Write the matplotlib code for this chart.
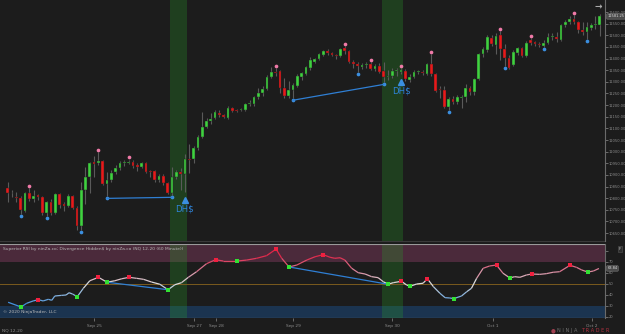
import numpy as np
import matplotlib
matplotlib.use("Agg")
import matplotlib.pyplot as plt
from matplotlib.collections import LineCollection
from matplotlib.colors import LinearSegmentedColormap, Normalize

# NQ 12-20, 60 minute bars
opens = [10844, 10824, 10803, 10801, 10745, 10822, 10796, 10813.5, 10805, 10736,
         10783, 10736, 10818, 10775, 10766, 10809, 10758, 10680, 10835, 10891,
         10955, 10951, 10960, 10861, 10878, 10912, 10930, 10951, 10952, 10955,
         10942.5, 10934, 10951, 10917, 10917, 10878, 10895, 10865, 10822, 10891,
         10912, 10904, 10968, 10968, 11016, 11063, 11106, 11132, 11145, 11166,
         11157.5, 11145, 11188, 11179, 11179, 11179, 11205, 11205, 11235, 11252,
         11269, 11321, 11342, 11347, 11274, 11239, 11265, 11282, 11321, 11334,
         11360, 11385, 11398, 11415.5, 11433, 11424, 11415.5, 11411, 11446, 11433,
         11385, 11377, 11364, 11372.5, 11377, 11355, 11368, 11347, 11321, 11325,
         11347, 11342, 11347, 11308, 11321, 11342, 11342, 11334, 11377, 11334,
         11269, 11265, 11192, 11226, 11213, 11231, 11235, 11274, 11256, 11312,
         11420, 11437, 11489, 11458.5, 11501.5, 11441, 11403, 11372.5, 11424, 11446,
         11411, 11480, 11471, 11463, 11454, 11467, 11493, 11493, 11480, 11544.5,
         11557, 11570, 11557, 11523, 11514, 11532, 11544.5, 11544.5]
highs = [10869, 10835, 10826, 10809, 10826, 10844, 10835, 10818, 10809, 10788,
         10796, 10822, 10822, 10783, 10818, 10813.5, 10766, 10869, 10934, 10955,
         10981, 10998, 10964, 10912, 10921, 10942.5, 10960, 10964, 10966, 10964,
         10951, 10955, 10955, 10921, 10921, 10904, 10904, 10869, 10934, 10921,
         10930, 10990, 11033, 11024, 11071.5, 11170, 11145, 11166, 11179, 11179,
         11162, 11196, 11192, 11183, 11188, 11209, 11222, 11239, 11274, 11282,
         11329.5, 11364, 11360, 11351, 11317, 11304, 11295, 11334, 11342, 11368,
         11407, 11403, 11424, 11437, 11441, 11428, 11420, 11446, 11454, 11437,
         11394, 11385, 11381, 11385, 11385, 11377, 11381, 11385, 11351, 11360,
         11360, 11360, 11355, 11334, 11351, 11351, 11351, 11381, 11420, 11338,
         11282, 11282, 11235, 11239, 11243.5, 11243.5, 11291, 11282, 11317, 11424,
         11450, 11501.5, 11501.5, 11510, 11519, 11463, 11415.5, 11437, 11450, 11450,
         11476, 11489, 11476, 11471, 11480, 11510, 11510, 11514, 11549, 11566,
         11583, 11587.5, 11562, 11557, 11557, 11553, 11583, 11592]
lows = [10783, 10805, 10783, 10732, 10740, 10788, 10783, 10792, 10727.5, 10723,
        10727.5, 10732, 10758, 10745, 10762, 10753, 10663, 10663, 10775, 10822,
        10891, 10942.5, 10856.5, 10809, 10869, 10904, 10921, 10938, 10947, 10930,
        10917, 10930, 10908, 10891, 10869, 10869, 10856.5, 10818, 10813.5, 10882,
        10835, 10826, 10908, 10951, 11007, 11058.6, 11102, 11119, 11140, 11149,
        11145, 11140, 11170, 11170, 11175, 11175, 11196, 11196, 11226, 11239,
        11265, 11317, 11325, 11252, 11231, 11231, 11231, 11278, 11308, 11329.5,
        11351, 11381, 11394, 11411, 11415.5, 11411, 11398, 11407, 11420, 11381,
        11360, 11342, 11355, 11360, 11351, 11347, 11338, 11299, 11308, 11317,
        11325, 11334, 11304, 11299, 11317, 11334, 11329.5, 11329.5, 11325, 11256,
        11231, 11188, 11179, 11205, 11205, 11188, 11213, 11243.5, 11243.5, 11308,
        11407, 11428, 11454, 11420, 11394, 11368, 11355, 11368, 11415.5, 11407,
        11407, 11458.5, 11454, 11450, 11450, 11463, 11480, 11471, 11476, 11536,
        11549, 11549, 11510, 11501.5, 11484, 11523, 11527, 11497]
closes = [10822, 10820, 10799, 10749, 10822, 10796, 10809, 10805, 10736, 10783,
          10736, 10818, 10770.5, 10766, 10809, 10758, 10680, 10835, 10891, 10951,
          10947, 10960, 10861, 10878, 10908, 10930, 10951, 10955, 10956, 10938,
          10934, 10951, 10912, 10912, 10878, 10895, 10865, 10822, 10891, 10912,
          10904, 10968, 10964, 11016, 11063, 11106, 11132, 11140, 11170, 11157.5,
          11149, 11188, 11175, 11175, 11183, 11205, 11209, 11235, 11252, 11269,
          11321, 11342, 11338, 11274, 11239, 11265, 11286.5, 11325, 11338, 11364,
          11394, 11398, 11420, 11433, 11424, 11415.5, 11411, 11441, 11433, 11385,
          11377, 11368, 11372.5, 11377, 11355, 11368, 11342, 11321, 11325, 11347,
          11351, 11351, 11312, 11321, 11342, 11347, 11338, 11377, 11334, 11261,
          11265, 11192, 11226, 11213, 11235, 11235, 11274, 11256, 11312, 11420,
          11441, 11493, 11463, 11497, 11441, 11403, 11360, 11428, 11446, 11411,
          11467, 11467, 11463, 11458.5, 11467, 11493, 11495, 11484, 11544.5, 11557,
          11570, 11557, 11523, 11514, 11536, 11544.5, 11549, 11581.25]

pivot_high_bars = [5, 21, 28, 62, 78, 84, 91, 98, 114, 121, 131]
pivot_low_bars = [3, 9, 17, 23, 38, 66, 81, 87, 102, 115, 124, 134]
div_pairs = [(23, 38), (66, 87)]
signal_bars = [41, 91]
shade_bars = [(38, 41), (87, 91)]

# Superior RSI
rsi_x = [0.1, 3.1, 4.4, 5.9, 7.1, 8.2, 9.4, 10.2, 10.9, 12.5, 13.5, 14.2, 15.0, 16.1,
         17.5, 19.0, 21.0, 23.0, 24.8, 26.4, 28.1, 29.8, 31.4, 33.3, 35.2, 37.1, 38.7,
         40.2, 41.8, 43.7, 46.0, 48.1, 49.9, 53.1, 55.3, 57.6, 59.9, 62.1, 63.4, 65.1,
         66.9, 69.2, 71.1, 73.0, 74.6, 75.7, 76.9, 78.0, 79.6, 81.1, 82.7, 84.2, 85.7,
         86.9, 88.0, 89.2, 91.1, 92.3, 93.1, 94.6, 96.1, 97.1, 98.5, 100.0, 101.2,
         102.3, 103.2, 105.0, 106.2, 107.3, 108.5, 110.0, 111.5, 113.1, 114.6, 116.2,
         117.3, 118.5, 120.0, 121.2, 123.1, 124.6, 126.2, 127.7, 130.1, 131.6, 132.8,
         134.2, 135.5, 136.8]
rsi_v = [33.1, 28.8, 32.2, 34.3, 35.5, 34.3, 35.8, 34.9, 38.8, 39.4, 39.7, 41.8, 40.6,
         38.2, 45.8, 52.7, 55.8, 51.3, 52.7, 54.5, 55.8, 54.9, 54.0, 51.5, 49.5, 44.5,
         49.1, 50.9, 55.8, 60.9, 68.2, 71.8, 70.6, 70.6, 71.5, 73.1, 75.5, 81.5, 73.1,
         65.2, 67.0, 71.5, 74.5, 76.4, 74.0, 73.1, 73.6, 71.5, 64.0, 60.0, 58.8, 56.4,
         55.5, 51.8, 49.5, 50.9, 52.2, 48.8, 47.6, 49.7, 50.4, 54.5, 47.3, 41.3, 37.3,
         37.0, 36.4, 38.8, 42.7, 45.8, 54.9, 64.0, 66.1, 67.0, 59.5, 55.2, 56.4, 55.8,
         57.9, 58.8, 58.5, 59.1, 60.4, 60.9, 66.7, 64.9, 62.5, 60.6, 61.5, 63.84]
rsi_hi_x = [7.1, 21.0, 28.1, 48.1, 62.1, 73.0, 91.1, 97.1, 113.1, 121.2, 130.1]
rsi_hi_v = [35.5, 55.8, 55.8, 71.8, 81.5, 76.4, 52.2, 54.5, 67.0, 58.8, 66.7]
rsi_lo_x = [3.1, 16.1, 23.0, 37.1, 53.1, 65.1, 88.0, 93.1, 103.2, 116.2, 134.2]
rsi_lo_v = [28.8, 38.2, 51.3, 44.5, 70.6, 65.2, 49.5, 47.6, 36.4, 55.2, 60.6]
rsi_div = [((23.0, 51.3), (37.1, 44.5)), ((65.1, 65.2), (88.0, 49.5))]

xtick_pos = [20, 43.1, 48.2, 66, 88.9, 112.3, 135.2]
xtick_labels = ["Sep 25", "Sep 27", "Sep 28", "Sep 29", "Sep 30", "Oct 1", "Oct 2"]
price_ticks = np.arange(10650, 11601, 50)

bg = "#1c1c1c"
txt = "#8c8c8c"
up_c = "#3fd23f"
dn_c = "#e8191a"
wick_c = "#5a5a5a"
pink = "#f07aa8"
blue = "#3b8fe0"

W, H = 625, 334
fig = plt.figure(figsize=(W / 100, H / 100), dpi=100, facecolor=bg)
ax = fig.add_axes([0, 1 - 241 / H, 605 / W, 241 / H], facecolor=bg)
ax2 = fig.add_axes([0, 16 / H, 605 / W, 74 / H], facecolor=bg)

x = np.arange(len(closes))
o = np.array(opens); c = np.array(closes)
hi = np.array(highs); lo = np.array(lows)
up = c >= o

xmin, xmax = -1.78, 138.2
for a in (ax, ax2):
    a.set_xlim(xmin, xmax)
    for s in ("left", "top", "bottom"):
        a.spines[s].set_visible(False)
    a.spines["right"].set_color("#6a6a6a")
    a.spines["right"].set_linewidth(0.8)
    for b0, b1 in shade_bars:
        a.axvspan(b0 - 0.5, b1 + 0.5, color="#2a9a2a", alpha=0.28, lw=0, zorder=1)

# price panel
ax.set_ylim(10615.7, 11652)
ax.vlines(x, lo, hi, color=wick_c, lw=0.8, zorder=2)
body = np.maximum(np.abs(c - o), 2.5)
ax.bar(x, body, bottom=np.minimum(o, c), width=0.62,
       color=np.where(up, up_c, dn_c), edgecolor="#202020", linewidth=0.3, zorder=3)

ax.scatter(x[pivot_high_bars], hi[pivot_high_bars] + 10, s=7, color=pink, zorder=4, lw=0)
ax.scatter(x[pivot_low_bars], lo[pivot_low_bars] - 10, s=7, color=blue, zorder=4, lw=0)
for b0, b1 in div_pairs:
    ax.plot([b0, b1], [lo[b0] - 10, lo[b1] - 10], color="#2f7fd4", lw=0.9, zorder=4)
for b in signal_bars:
    ax.plot(b, lo[b] - 34, marker="^", color=blue, ms=4, zorder=5)
    ax.text(b, lo[b] - 72, "DH$", color="#2f86dc", fontsize=6.2,
            ha="center", va="center", zorder=5)

ax.yaxis.tick_right()
ax.set_yticks(price_ticks)
ax.set_yticklabels([f"{v:.2f}" for v in price_ticks])
ax.tick_params(axis="y", colors=txt, labelsize=2.6, length=2, width=0.5, pad=0.8)
ax.set_xticks([])
ax.text(1.004, closes[-1], f"{closes[-1]:.2f}", transform=ax.get_yaxis_transform(),
        fontsize=2.6, color="#dddddd", va="center", ha="left", clip_on=False,
        bbox=dict(boxstyle="round,pad=0.2", fc="#4a4a4a", ec="#777777", lw=0.4), zorder=6)
ax.text(598 / 605, 1 - 7 / 241, "\u2192", transform=ax.transAxes, color="#aaaaaa",
        fontsize=6.5, ha="center", va="center", fontweight="bold")
ax.plot([0, 1], [0.0, 0.0], transform=ax.transAxes, color="#3a3a3a", lw=0.8, clip_on=False)

# RSI panel
ax2.set_ylim(18.8, 86.1)
ax2.axhspan(70, 86.1, color="#4b2a3b", lw=0, zorder=0)
ax2.axhspan(18.8, 30, color="#1b3450", lw=0, zorder=0)
ax2.axhline(50, color="#7a5a1e", lw=0.7, zorder=1)
ax2.axhline(86.0, color="#9a9a9a", lw=0.8, zorder=1)
ax2.axhline(18.9, color="#9a9a9a", lw=0.8, zorder=1)

cmap = LinearSegmentedColormap.from_list(
    "rsi", [(0.0, "#3d8fe0"), (0.45, "#dcdcdc"), (0.75, "#d77590"), (1.0, "#e0284a")])
norm = Normalize(30, 75)
pts = np.column_stack([rsi_x, rsi_v]).reshape(-1, 1, 2)
segs = np.concatenate([pts[:-1], pts[1:]], axis=1)
mid = (np.array(rsi_v[:-1]) + np.array(rsi_v[1:])) / 2
lc = LineCollection(segs, colors=cmap(norm(mid)), linewidths=0.9, zorder=3)
ax2.add_collection(lc)
for p0, p1 in rsi_div:
    ax2.plot([p0[0], p1[0]], [p0[1], p1[1]], color="#2f7fd4", lw=0.9, zorder=3)
ax2.plot(rsi_hi_x, rsi_hi_v, "s", color="#f0203f", ms=2.6, mew=0, zorder=4)
ax2.plot(rsi_lo_x, rsi_lo_v, "s", color="#33e033", ms=2.6, mew=0, zorder=4)

ax2.yaxis.tick_right()
ax2.set_yticks([20, 30, 40, 50, 60, 70, 80])
ax2.set_yticklabels(["20", "30", "40", "50", "60", "70", ""])
ax2.tick_params(axis="y", colors=txt, labelsize=2.6, length=2, width=0.5, pad=0.8)
ax2.set_xticks(xtick_pos)
ax2.set_xticklabels(xtick_labels)
ax2.tick_params(axis="x", colors=txt, labelsize=3.1, length=2, width=0.5, pad=2)
ax2.text(1.004, rsi_v[-1], f"{rsi_v[-1]:.2f}", transform=ax2.get_yaxis_transform(),
         fontsize=2.6, color="#dddddd", va="center", ha="left", clip_on=False,
         bbox=dict(boxstyle="round,pad=0.2", fc="#4a4a4a", ec="#777777", lw=0.4), zorder=6)
ax2.text(3 / 605, 0.955, "Superior RSI by ninZa.co; Divergence Hidden$ by ninZa.co (NQ 12-20 (60 Minute))",
         transform=ax2.transAxes, fontsize=3.2, color="#b8b8b8", va="top", ha="left")
ax2.text(3 / 605, 0.05, "\u00a9 2020 NinjaTrader, LLC", transform=ax2.transAxes,
         fontsize=3.2, color="#b8b8b8", va="bottom", ha="left")
ax2.text(1.025, 0.93, "F", transform=ax2.transAxes, fontsize=3.0, color="#bbbbbb",
         ha="center", va="center", clip_on=False,
         bbox=dict(boxstyle="square,pad=0.25", fc="#2e2e2e", ec="#555555", lw=0.4))

fig.text(2 / W, 4 / H, "NQ 12-20", fontsize=3.2, color=txt, ha="left", va="center")
fig.text(553 / W, 3.5 / H, "\u25cf", fontsize=4.0, color="#a04050", ha="center", va="center")
fig.text(557 / W, 3.5 / H, "N I N J A", fontsize=3.6, color="#6e6e6e", ha="left", va="center")
fig.text(581 / W, 3.5 / H, "T R A D E R", fontsize=3.6, color="#b03040", ha="left", va="center")

fig.savefig("out.png", dpi=100, facecolor=bg)
